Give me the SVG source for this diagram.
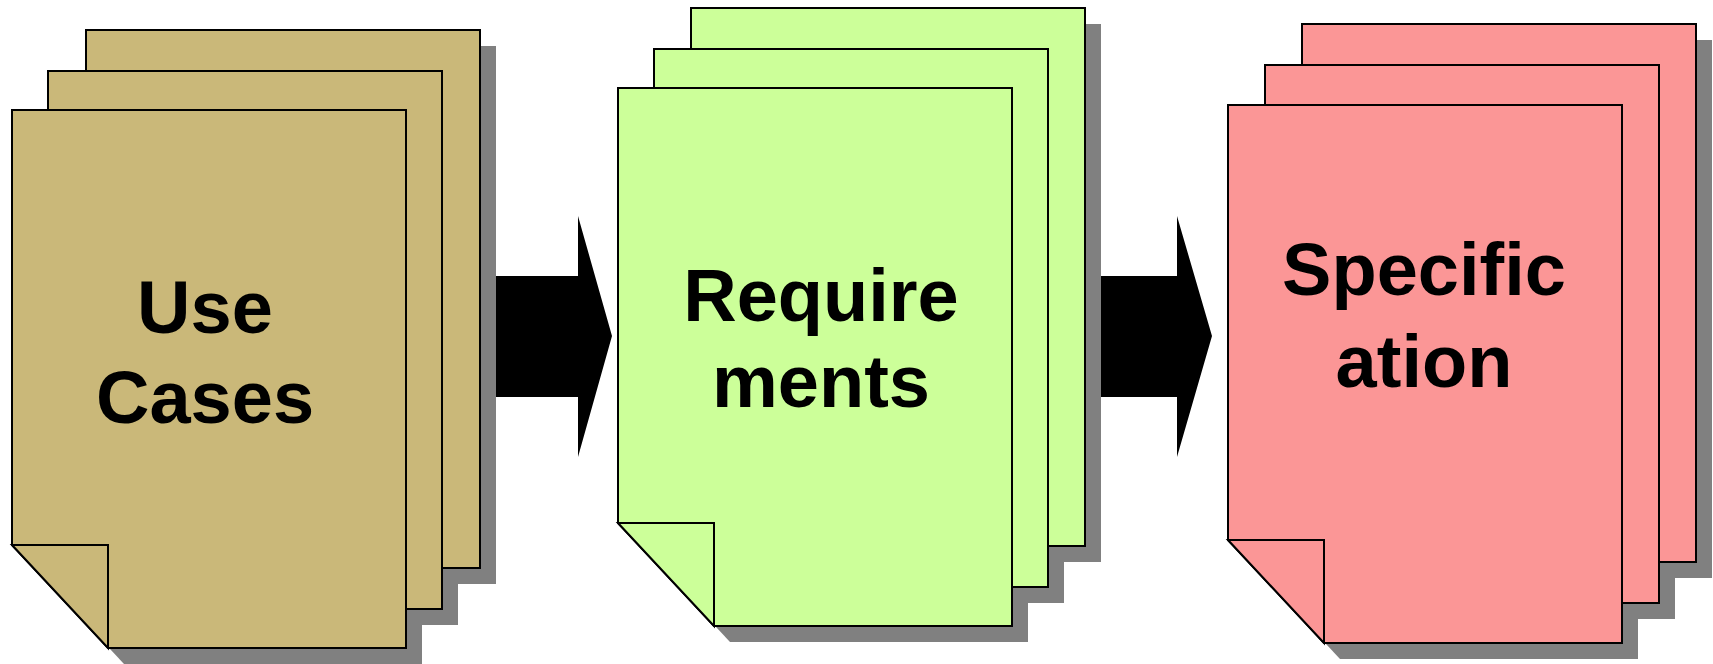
<svg xmlns="http://www.w3.org/2000/svg" width="1713" height="664" viewBox="0 0 1713 664">
  <style>
    .shadow { fill: #808080; stroke: none; }
    .sheet { stroke: #000; stroke-width: 2; stroke-linejoin: miter; }
    .tan { fill: #CAB879; }
    .green { fill: #CCFF99; }
    .pink { fill: #FB9696; }
    .label { font-family: "Liberation Sans", Arial, sans-serif; font-weight: bold; font-size: 74px; fill: #000; text-anchor: middle; }
    .arrow { fill: #000; stroke: none; }
  </style>
  <defs>
    <!-- one page with its lower-left corner cut away; origin at top-left -->
    <polygon id="page" points="0,0 394,0 394,538 96,538 0,435"/>
    <!-- the turned-up corner flap -->
    <polygon id="flap" points="0,435 96,435 96,538"/>
  </defs>
  <rect width="1713" height="664" fill="#fff"/>

  <!-- block arrows between the document stacks -->
  <g id="connectors">
    <polygon class="arrow" points="490,276 578,276 578,216 612,336 578,457 578,397 490,397"/>
    <polygon class="arrow" points="1096,276 1177,276 1177,216 1212,336 1177,457 1177,397 1096,397"/>
  </g>

  <!-- stack 1: Use Cases -->
  <g id="use-cases">
    <use href="#page" class="shadow" x="102" y="46"/>
    <use href="#page" class="shadow" x="64" y="87"/>
    <use href="#page" class="shadow" x="28" y="126"/>
    <use href="#page" class="sheet tan" x="86" y="30"/>
    <use href="#page" class="sheet tan" x="48" y="71"/>
    <use href="#page" class="sheet tan" x="12" y="110"/>
    <use href="#flap" class="sheet tan" x="12" y="110"/>
    <text class="label" x="205" y="333">Use</text>
    <text class="label" x="205" y="423">Cases</text>
  </g>

  <!-- stack 2: Requirements -->
  <g id="requirements">
    <use href="#page" class="shadow" x="707" y="24"/>
    <use href="#page" class="shadow" x="670" y="65"/>
    <use href="#page" class="shadow" x="634" y="104"/>
    <use href="#page" class="sheet green" x="691" y="8"/>
    <use href="#page" class="sheet green" x="654" y="49"/>
    <use href="#page" class="sheet green" x="618" y="88"/>
    <use href="#flap" class="sheet green" x="618" y="88"/>
    <text class="label" x="821" y="321">Require</text>
    <text class="label" x="821" y="407">ments</text>
  </g>

  <!-- stack 3: Specification -->
  <g id="specification">
    <use href="#page" class="shadow" x="1318" y="40"/>
    <use href="#page" class="shadow" x="1281" y="81"/>
    <use href="#page" class="shadow" x="1244" y="121"/>
    <use href="#page" class="sheet pink" x="1302" y="24"/>
    <use href="#page" class="sheet pink" x="1265" y="65"/>
    <use href="#page" class="sheet pink" x="1228" y="105"/>
    <use href="#flap" class="sheet pink" x="1228" y="105"/>
    <text class="label" x="1424" y="295">Specific</text>
    <text class="label" x="1424" y="387">ation</text>
  </g>
</svg>
